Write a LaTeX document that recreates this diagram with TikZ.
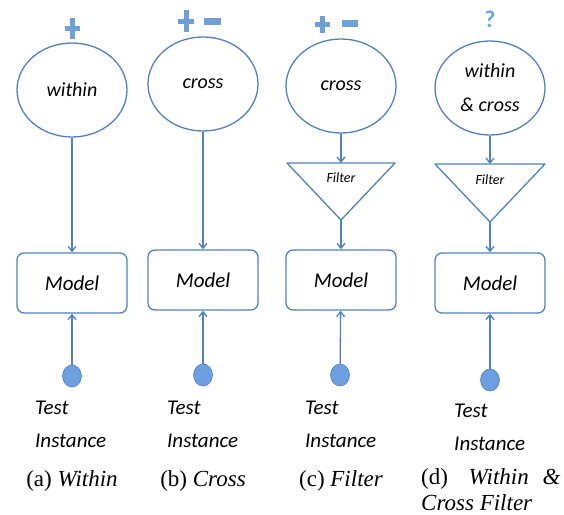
\documentclass[tikz,border=0pt]{standalone}
\usepackage{fontspec}
\setmainfont{Liberation Serif}
\newfontfamily\calfont{Carlito}
\usetikzlibrary{shapes.geometric,arrows.meta}
\definecolor{lineblue}{RGB}{79,129,189}
\definecolor{dotblue}{RGB}{108,158,226}
\definecolor{signblue}{RGB}{112,160,218}
\begin{document}
\begin{tikzpicture}[x=1pt,y=-1pt,
  src/.style={ellipse, draw=lineblue, line width=1.3pt, fill=white, minimum width=110pt, minimum height=94pt, inner sep=0pt, align=center, font=\calfont\itshape\fontsize{20}{34}\selectfont},
  modelbox/.style={rectangle, rounded corners=7pt, draw=lineblue, line width=1.3pt, minimum width=110pt, minimum height=60pt, inner sep=0pt, font=\calfont\itshape\fontsize{21}{25}\selectfont},
  conn/.style={draw=lineblue, line width=1.3pt, -{Straight Barb[length=5pt,width=8pt]}},
  tri/.style={draw=lineblue, line width=1.3pt, line join=round},
  filterlbl/.style={font=\calfont\itshape\fontsize{14}{16}\selectfont, inner sep=0pt},
  testdot/.style={ellipse, fill=dotblue, draw=lineblue, line width=0.6pt, minimum width=19pt, minimum height=22pt, inner sep=0pt},
  testlbl/.style={anchor=west, align=left, inner sep=0pt, font=\calfont\itshape\fontsize{21}{33}\selectfont},
  caption/.style={inner sep=0pt, align=left, font=\fontsize{23}{26}\selectfont},
  sign/.style={fill=signblue, draw=none}
]
\useasboundingbox (0,0) rectangle (564,514);

% ---------- (a) Within ----------
\fill[sign] (69.5,18) rectangle (74.5,39);
\fill[sign] (64.5,26) rectangle (79.5,31);
\node[src] (ea) at (72,90) {within};
\node[modelbox] (ma) at (72,283) {Model};
\node[testdot] (da) at (72,376) {};
\draw[conn] (ea) -- (ma);
\draw[conn] (da) -- (ma);
\node[testlbl] (ta) at (35,424) {Test\\Instance};
\node[caption] (ca) at (72,481) {(a) \textit{Within}};

% ---------- (b) Cross ----------
\fill[sign] (183.5,10) rectangle (188.5,32);
\fill[sign] (178,18.5) rectangle (194,23.5);
\fill[sign] (204,17.5) rectangle (221,24.5);
\node[src] (eb) at (203,84) {cross};
\node[modelbox] (mb) at (203,280) {Model};
\node[testdot] (db) at (203,375) {};
\draw[conn] (eb) -- (mb);
\draw[conn] (db) -- (mb);
\node[testlbl] (tb) at (167,424) {Test\\Instance};
\node[caption] (cb) at (203,481) {(b) \textit{Cross}};

% ---------- (c) Filter ----------
\fill[sign] (319.5,16) rectangle (324.5,33);
\fill[sign] (315,22) rectangle (330,27);
\fill[sign] (342,19.5) rectangle (358,26.5);
\node[src] (ec) at (341,86) {cross};
\coordinate (fct) at (341,163);
\coordinate (fca) at (341,220);
\draw[tri] (287,163) -- (395,163) -- (fca) -- cycle;
\node[filterlbl] (fc) at (341,178) {Filter};
\node[modelbox] (mc) at (341,280) {Model};
\node[testdot] (dc) at (340,375) {};
\draw[conn] (ec) -- (fct);
\draw[conn] (fca) -- (mc);
\draw[conn] (dc) -- (mc);
\node[testlbl] (tc) at (305,424) {Test\\Instance};
\node[caption] (cc) at (341,481) {(c) \textit{Filter}};

% ---------- (d) Within & Cross Filter ----------
\node[text=signblue, inner sep=0pt, font=\calfont\bfseries\fontsize{24}{24}\selectfont] (qd) at (490,19) {?};
\node[src] (ed) at (490,88) {within\\\& cross};
\coordinate (fdt) at (490,164);
\coordinate (fda) at (490,222);
\draw[tri] (435,164) -- (545,164) -- (fda) -- cycle;
\node[filterlbl] (fd) at (490,180) {Filter};
\node[modelbox] (md) at (490,283) {Model};
\node[testdot] (dd) at (490,380) {};
\draw[conn] (ed) -- (fdt);
\draw[conn] (fda) -- (md);
\draw[conn] (dd) -- (md);
\node[testlbl] (td) at (454,427) {Test\\Instance};
\node[caption, anchor=north west] (cd) at (421,468) {(d)\hspace{0.9em}\textit{Within}\hspace{0.6em}\textit{\&}\\\textit{Cross Filter}};
\end{tikzpicture}
\end{document}
